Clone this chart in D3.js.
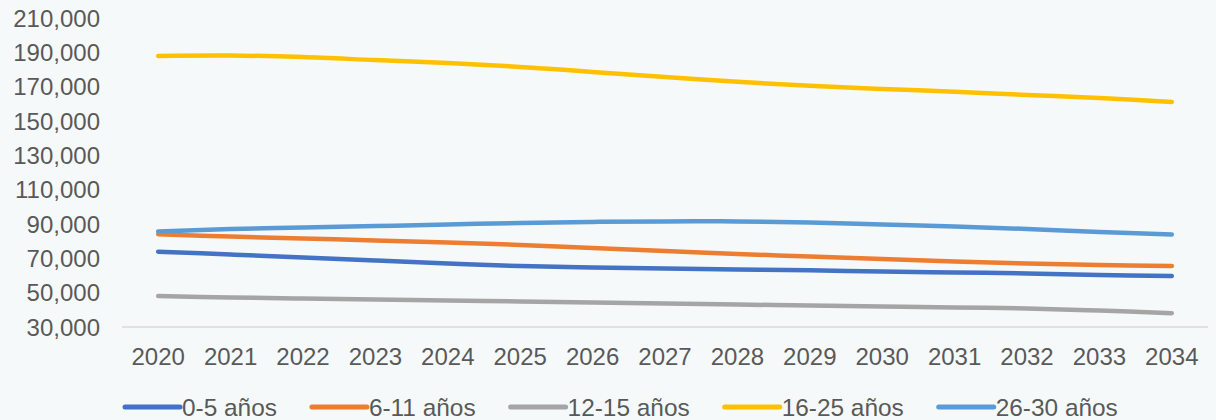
<!DOCTYPE html>
<html>
<head>
<meta charset="utf-8">
<script src="https://cdn.jsdelivr.net/npm/d3@7"></script>
<style>
  html, body { margin: 0; padding: 0; background: #f6f9f9; }
  svg { display: block; }
  text { font-family: "Liberation Sans", Arial, sans-serif; fill: #595959; }
</style>
</head>
<body>
<svg id="chart" width="1216" height="420"></svg>
<script>
const years = ["2020","2021","2022","2023","2024","2025","2026","2027","2028","2029","2030","2031","2032","2033","2034"];
const yTicks = [30000, 50000, 70000, 90000, 110000, 130000, 150000, 170000, 190000, 210000];
const seriesNames = ["0-5 años", "6-11 años", "12-15 años", "16-25 años", "26-30 años"];
const seriesColors = ["#4472C4", "#ED7D31", "#A5A5A5", "#FFC000", "#5B9BD5"];
const age0_5   = [73900, 72200, 70500, 68700, 67000, 65500, 64700, 64100, 63500, 63000, 62300, 61800, 61200, 60300, 59700];
const age6_11  = [84000, 82700, 81600, 80400, 79200, 77800, 76000, 74300, 72500, 71100, 69600, 68200, 67000, 66100, 65500];
const age12_15 = [48100, 47200, 46600, 46000, 45400, 44900, 44300, 43700, 43100, 42500, 41900, 41400, 40800, 39600, 38000];
const age16_25 = [187900, 188100, 187300, 185500, 183800, 181500, 178600, 175700, 172800, 170500, 168700, 167000, 165200, 163400, 161100];
const age26_30 = [85600, 87100, 88000, 88800, 89700, 90600, 91200, 91500, 91500, 90900, 89700, 88600, 87100, 85300, 83900];
const seriesValues = [age0_5, age6_11, age12_15, age16_25, age26_30];

(function () {
const svg = d3.select("#chart");
const mLeft = 122, mRight = 1208, mTop = 18, mBottom = 327;
const fontSize = 24;
const legendFont = 24.4;

const x = d3.scaleBand().domain(years).range([mLeft, mRight]);
const y = d3.scaleLinear().domain([30000, 210000]).range([mBottom, mTop]);
const xc = d => x(d) + x.bandwidth() / 2;

const fmt = d3.format(",");
svg.append("g").selectAll("text").data(yTicks).join("text")
  .attr("x", 100).attr("y", d => y(d)).attr("dy", "0.36em")
  .attr("text-anchor", "end").attr("font-size", fontSize)
  .text(d => fmt(d));

svg.append("line").attr("x1", mLeft).attr("x2", mRight)
  .attr("y1", mBottom).attr("y2", mBottom)
  .attr("stroke", "#d9d9d9").attr("stroke-width", 1.5);

svg.append("g").selectAll("text").data(years).join("text")
  .attr("x", d => xc(d)).attr("y", 364.5)
  .attr("text-anchor", "middle").attr("font-size", fontSize)
  .text(d => d);

const line = d3.line().x((d, i) => xc(years[i])).y(d => y(d)).curve(d3.curveCatmullRom.alpha(0.5));
svg.append("g").selectAll("path").data(seriesValues).join("path")
  .attr("d", d => line(d))
  .attr("fill", "none")
  .attr("stroke", (d, i) => seriesColors[i])
  .attr("stroke-width", 4.5)
  .attr("stroke-linecap", "round")
  .attr("stroke-linejoin", "round");

let lx = 125;
const ly = 407;
seriesNames.forEach((name, i) => {
  svg.append("line").attr("x1", lx).attr("x2", lx + 55).attr("y1", ly).attr("y2", ly)
    .attr("stroke", seriesColors[i]).attr("stroke-width", 5).attr("stroke-linecap", "round");
  const t = svg.append("text").attr("x", lx + 57).attr("y", ly).attr("dy", "0.36em")
    .attr("font-size", legendFont).text(name);
  const w = t.node().getComputedTextLength();
  lx = lx + 57 + w + 35;
});
})();
</script>
</body>
</html>
